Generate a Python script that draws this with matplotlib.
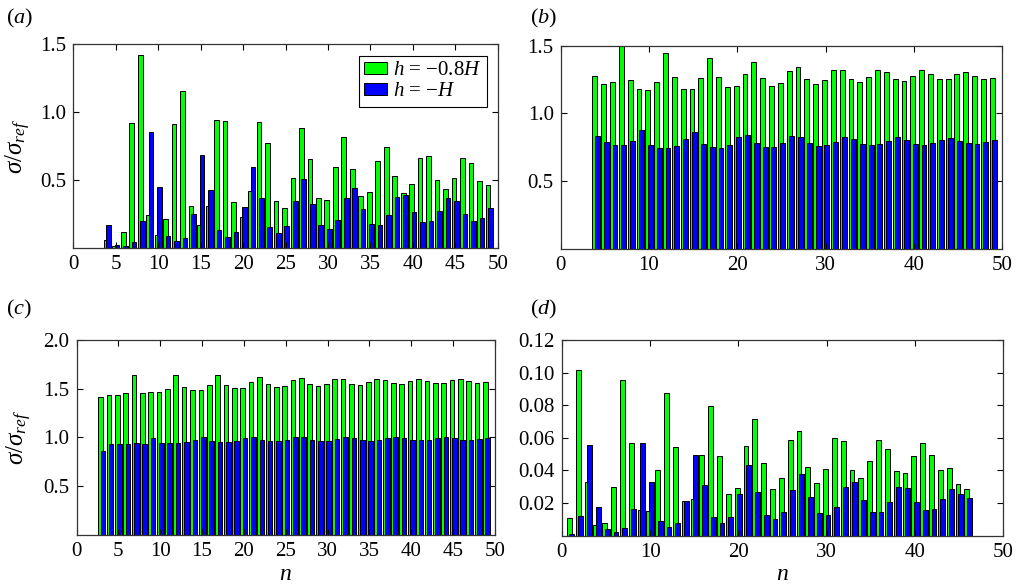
import matplotlib
matplotlib.use("Agg")
import matplotlib.pyplot as plt
from matplotlib.patches import Patch

plt.rcParams["font.family"] = ["Liberation Serif", "DejaVu Serif"]
plt.rcParams["mathtext.fontset"] = "custom"
plt.rcParams["mathtext.rm"] = "Liberation Serif"
plt.rcParams["mathtext.it"] = "Liberation Serif:italic"

GREEN = "#00ff00"
BLUE = "#0000ff"

# panel (a)
n_a = list(range(4, 50))
a_green = [0.06, 0.01, 0.115, 0.92, 1.42, 0.24, 0.095, 0.21, 0.915, 1.155,
           0.31, 0.165, 0.31, 0.94, 0.935, 0.336, 0.225, 0.417, 0.93, 0.77,
           0.348, 0.29, 0.515, 0.88, 0.657, 0.363, 0.355, 0.593, 0.814, 0.578,
           0.38, 0.414, 0.637, 0.743, 0.532, 0.404, 0.47, 0.66, 0.68, 0.50,
           0.43, 0.517, 0.662, 0.627, 0.49, 0.46]
a_blue = [0.17, 0.02, 0.01, 0.04, 0.20, 0.85, 0.45, 0.09, 0.05, 0.075,
          0.245, 0.686, 0.426, 0.13, 0.08, 0.118, 0.30, 0.593, 0.37, 0.152,
          0.11, 0.157, 0.343, 0.51, 0.32, 0.164, 0.137, 0.203, 0.37, 0.444,
          0.284, 0.176, 0.167, 0.243, 0.377, 0.392, 0.262, 0.186, 0.194, 0.272,
          0.37, 0.348, 0.248, 0.20, 0.218, 0.294]

# panel (b)
n_b = list(range(4, 50))
b_green = [1.273, 1.217, 1.232, 1.495, 1.246, 1.18, 1.17, 1.232, 1.443, 1.266,
           1.182, 1.182, 1.261, 1.409, 1.266, 1.195, 1.202, 1.293, 1.377, 1.261,
           1.204, 1.227, 1.313, 1.345, 1.254, 1.219, 1.246, 1.323, 1.32, 1.251,
           1.232, 1.266, 1.323, 1.303, 1.251, 1.241, 1.278, 1.318, 1.29, 1.254,
           1.254, 1.29, 1.308, 1.278, 1.254, 1.264]
b_blue = [0.837, 0.786, 0.768, 0.768, 0.80, 0.877, 0.771, 0.749, 0.744, 0.761,
          0.813, 0.86, 0.776, 0.754, 0.749, 0.768, 0.825, 0.84, 0.781, 0.756,
          0.756, 0.781, 0.833, 0.825, 0.781, 0.759, 0.766, 0.791, 0.828, 0.813,
          0.778, 0.766, 0.773, 0.80, 0.825, 0.803, 0.778, 0.771, 0.781, 0.805,
          0.818, 0.798, 0.781, 0.773, 0.788, 0.808]

# panel (c)
n_c = list(range(3, 50))
c_green = [1.414, 1.435, 1.438, 1.452, 1.644, 1.459, 1.466, 1.466, 1.497, 1.644,
           1.521, 1.49, 1.49, 1.534, 1.637, 1.541, 1.507, 1.51, 1.565, 1.623,
           1.548, 1.517, 1.531, 1.589, 1.61, 1.551, 1.531, 1.548, 1.599, 1.599,
           1.551, 1.538, 1.565, 1.603, 1.589, 1.555, 1.548, 1.575, 1.599, 1.582,
           1.558, 1.558, 1.586, 1.596, 1.582, 1.562, 1.568]
c_blue = [0.863, 0.935, 0.932, 0.932, 0.942, 0.935, 0.993, 0.945, 0.942, 0.942,
          0.952, 0.973, 1.003, 0.962, 0.952, 0.952, 0.962, 0.993, 1.003, 0.973,
          0.962, 0.962, 0.973, 1.007, 1.0, 0.976, 0.966, 0.966, 0.983, 1.003,
          0.993, 0.976, 0.969, 0.973, 0.99, 1.003, 0.993, 0.979, 0.973, 0.979,
          0.993, 1.0, 0.99, 0.979, 0.976, 0.986, 0.997]

# panel (d)
n_d = list(range(1, 47))
d_green = [0.011, 0.1016, 0.0329, 0.0063, 0.0076, 0.0297, 0.0955, 0.0566, 0.0155, 0.0151,
           0.0405, 0.0877, 0.0544, 0.0213, 0.0223, 0.0493, 0.0798, 0.0491, 0.0254, 0.029,
           0.0552, 0.0718, 0.0446, 0.0284, 0.0355, 0.0585, 0.0642, 0.0419, 0.0321, 0.0411,
           0.0597, 0.0579, 0.0403, 0.0352, 0.0456, 0.0587, 0.053, 0.0399, 0.0384, 0.0489,
           0.0566, 0.0495, 0.0401, 0.0413, 0.0317, 0.0284]
d_blue = [0.001, 0.0119, 0.0554, 0.0176, 0.0041, 0.0022, 0.0045, 0.0164, 0.0566, 0.0327,
          0.009, 0.0051, 0.0078, 0.0213, 0.0495, 0.0309, 0.0115, 0.0078, 0.0112, 0.0256,
          0.0434, 0.027, 0.0127, 0.01, 0.0145, 0.0282, 0.0378, 0.0239, 0.0137, 0.0125,
          0.0178, 0.0297, 0.0329, 0.0217, 0.0147, 0.0145, 0.0204, 0.0297, 0.029, 0.0204,
          0.0155, 0.0166, 0.0225, 0.0288, 0.0256, 0.0231]

legend_labels = [r"$h$ = $-0.8H$", r"$h$ = $-H$"]


def panel(ax, n, green, blue, ylim, yticks, ytick_fmt, xticks):
    w = 0.55
    ax.bar([v - 0.14 for v in n], green, width=w, color=GREEN,
           edgecolor="black", linewidth=0.7)
    ax.bar([v + 0.14 for v in n], blue, width=w, color=BLUE,
           edgecolor="black", linewidth=0.7)
    ax.set_xlim(0, 50)
    ax.set_ylim(*ylim)
    ax.set_xticks(xticks)
    ax.set_yticks(yticks)
    ax.set_yticklabels([ytick_fmt.format(t) for t in yticks])
    ax.tick_params(direction="in", top=True, right=True, length=4,
                   width=0.8, labelsize=15, pad=5)
    for s in ax.spines.values():
        s.set_linewidth(0.9)
        s.set_color("#333333")


fig = plt.figure(figsize=(10.18, 5.87), dpi=100)
ax_a = fig.add_axes([0.0722, 0.578, 0.4167, 0.3465])
ax_b = fig.add_axes([0.5508, 0.5758, 0.4338, 0.3463])
ax_c = fig.add_axes([0.0752, 0.0886, 0.411, 0.3322])
ax_d = fig.add_axes([0.5518, 0.0874, 0.4339, 0.3334])

panel(ax_a, n_a, a_green, a_blue, (0, 1.5), [0.5, 1.0, 1.5], "{:.1f}",
      range(0, 51, 5))
panel(ax_b, n_b, b_green, b_blue, (0, 1.5), [0.5, 1.0, 1.5], "{:.1f}",
      range(0, 51, 10))
panel(ax_c, n_c, c_green, c_blue, (0, 2.0), [0.5, 1.0, 1.5, 2.0], "{:.1f}",
      range(0, 51, 5))
panel(ax_d, n_d, d_green, d_blue, (0, 0.12),
      [0.02, 0.04, 0.06, 0.08, 0.10, 0.12], "{:.2f}", range(0, 51, 10))

handles = [Patch(facecolor=GREEN, edgecolor="black", linewidth=0.7),
           Patch(facecolor=BLUE, edgecolor="black", linewidth=0.7)]
leg = ax_a.legend(handles, legend_labels, loc="upper right", fontsize=15,
                  fancybox=False, framealpha=1, edgecolor="black",
                  handlelength=1.1, handleheight=0.55, handletextpad=0.3,
                  borderpad=0.25, borderaxespad=0, labelspacing=0.1,
                  bbox_to_anchor=(0.975, 0.9425))
leg.get_frame().set_linewidth(0.8)

ax_a.set_ylabel(r"$\sigma/\sigma_{ref}$", fontsize=18)
ax_c.set_ylabel(r"$\sigma/\sigma_{ref}$", fontsize=18)
ax_a.yaxis.set_label_coords(-0.095, 0.5)
ax_c.yaxis.set_label_coords(-0.102, 0.5)
ax_c.set_xlabel(r"$n$", fontsize=17, labelpad=2)
ax_d.set_xlabel(r"$n$", fontsize=17, labelpad=2)

fig.text(0.006, 0.968, r"($a$)", fontsize=16, va="center")
fig.text(0.521, 0.968, r"($b$)", fontsize=16, va="center")
fig.text(0.006, 0.472, r"($c$)", fontsize=16, va="center")
fig.text(0.521, 0.472, r"($d$)", fontsize=16, va="center")

fig.savefig("out.png", dpi=100)
